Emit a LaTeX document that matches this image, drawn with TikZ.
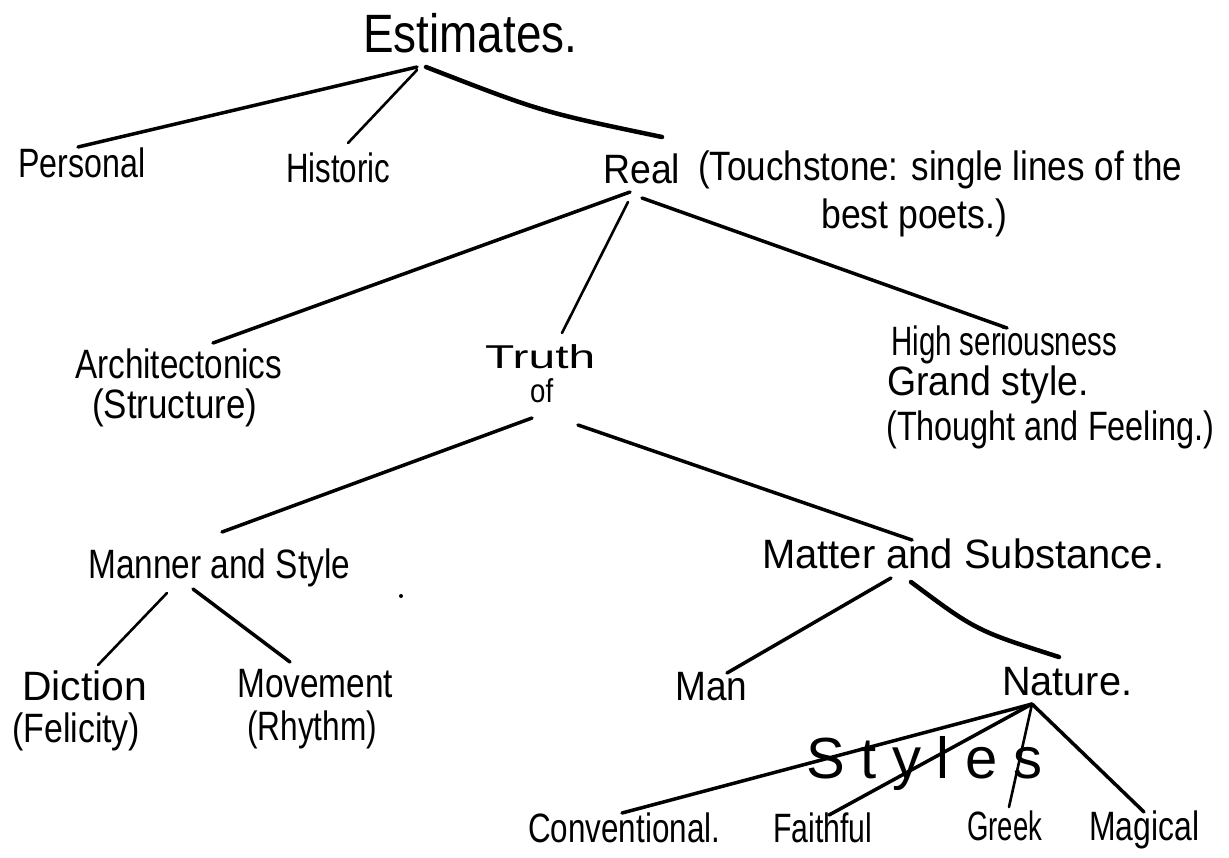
\documentclass[tikz,border=0pt]{standalone}
\usepackage{fontspec}
\setmainfont{Liberation Sans}
\usepackage{graphicx}
\usetikzlibrary{calc}
\newcommand{\hw}[2]{\resizebox{#1}{\height}{#2}}
\begin{document}
\begin{tikzpicture}[x=1pt,y=-1pt,
  lbl/.style={inner sep=0pt, anchor=base west, font=\fontsize{41}{46}\selectfont},
  small/.style={lbl, font=\fontsize{33}{38}\selectfont},
  big/.style={lbl, font=\fontsize{54}{60}\selectfont},
  edge/.style={line width=3.5pt, line cap=round, line join=round},
  thin/.style={edge, line width=2.6pt},
  heavy/.style={edge, line width=4.5pt}]
\useasboundingbox (0,0) rectangle (1229,857);
\fill[white] (0,0) rectangle (1229,857);

\node[big] (est) at (363,52) {\hw{214pt}{Estimates.}};
\node[lbl] (personal) at (18,177) {\hw{127pt}{Personal}};
\node[lbl] (historic) at (286,182) {\hw{104pt}{Historic}};
\node[lbl] (real) at (603,183) {\hw{77pt}{Real}};
\node[lbl] (touch) at (698,180) {\hw{484pt}{(Touchstone: single lines of the}};
\node[lbl] (best) at (821,228) {\hw{186pt}{best poets.)}};
\node[lbl] (arch) at (75,378) {\hw{207pt}{Architectonics}};
\node[lbl] (struct) at (92,418) {\hw{165pt}{(Structure)}};
\node[small] (truth) at (485,368) {\hw{110pt}{Truth}};
\node[small] (of) at (530,402) {\hw{23pt}{of}};
\node[lbl] (high) at (891,355) {\hw{226pt}{High seriousness}};
\node[lbl] (grand) at (887,395) {\hw{202pt}{Grand style.}};
\node[lbl] (thought) at (886,440) {\hw{328pt}{(Thought and Feeling.)}};
\node[lbl] (manner) at (88,578) {\hw{262pt}{Manner and Style}};
\node[lbl] (matter) at (762,568) {\hw{402pt}{Matter and Substance.}};
\node[lbl] (diction) at (22,700) {\hw{125pt}{Diction}};
\node[lbl] (felicity) at (12,742) {\hw{128pt}{(Felicity)}};
\node[lbl] (movement) at (237,697) {\hw{156pt}{Movement}};
\node[lbl] (rhythm) at (247,740) {\hw{130pt}{(Rhythm)}};
\node[lbl] (man) at (675,700) {\hw{72pt}{Man}};
\node[lbl] (nature) at (1002,695) {\hw{130pt}{Nature.}};
\node[lbl, font=\fontsize{58}{64}\selectfont\addfontfeatures{LetterSpace=27}] (styles) at (806,778) {Styles};
\node[lbl] (conv) at (528,842) {\hw{192pt}{Conventional.}};
\node[lbl] (faith) at (773,842) {\hw{99pt}{Faithful}};
\node[lbl] (greek) at (967,840) {\hw{75pt}{Greek}};
\node[lbl] (magical) at (1089,840) {\hw{110pt}{Magical}};

\coordinate (er1) at ([shift={(63,15)}]est.base west);
\coordinate (er2) at ([shift={(59,-46)}]real.base west);
\coordinate (mn1) at ([shift={(149,14)}]matter.base west);
\coordinate (mn2) at ([shift={(57,-38)}]nature.base west);

\draw[edge] ([shift={(54,15)}]est.base west) -- ([shift={(60,-30)}]personal.base west);
\draw[thin] ([shift={(54,18)}]est.base west) -- ([shift={(62,-39)}]historic.base west);
\draw[heavy] (er1) .. controls ($(er1)!0.5!(er2)+(-2,10)$) .. (er2);
\draw[edge] ([shift={(27,9)}]real.base west) -- ([shift={(138,-35)}]arch.base west);
\draw[thin] ([shift={(25,19)}]real.base west) -- ([shift={(77,-35)}]truth.base west);
\draw[edge] ([shift={(39,15)}]real.base west) -- ([shift={(116,-27)}]high.base west);
\draw[edge] ([shift={(2,16)}]of.base west) -- ([shift={(134,-46)}]manner.base west);
\draw[edge] ([shift={(48,23)}]of.base west) -- ([shift={(150,-28)}]matter.base west);
\draw[thin] ([shift={(79,15)}]manner.base west) -- ([shift={(76,-35)}]diction.base west);
\draw[edge] ([shift={(105,11)}]manner.base west) -- ([shift={(53,-35)}]movement.base west);
\draw[edge] ([shift={(129,10)}]matter.base west) -- ([shift={(52,-27)}]man.base west);
\draw[heavy] (mn1) .. controls ($(mn1)!0.5!(mn2)+(-9,11)$) .. (mn2);
\coordinate (nj) at ([shift={(30,9)}]nature.base west);
\draw[edge] (nj) -- ([shift={(94,-29)}]conv.base west);
\draw[edge] (nj) -- ([shift={(56,-27)}]faith.base west);
\draw[thin] (nj) -- ([shift={(42,-33)}]greek.base west);
\draw[edge] (nj) -- ([shift={(55,-28)}]magical.base west);
\fill (401,596) circle (2);
\end{tikzpicture}
\end{document}
